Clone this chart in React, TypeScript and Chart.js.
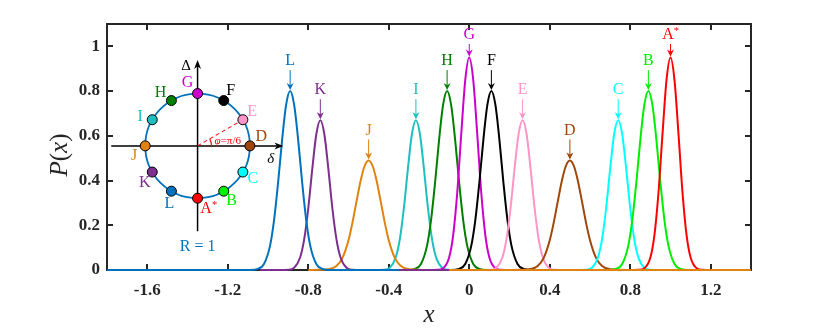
import React, { useEffect, useRef } from "react";
import { Chart, registerables } from "chart.js";

Chart.register(...registerables);

// ---------- data ----------
const peakNames = ["A*", "B", "C", "D", "E", "F", "G", "H", "I", "J", "K", "L"];
const peakCenters = [1.0, 0.89, 0.74, 0.5, 0.265, 0.11, 0.0, -0.11, -0.265, -0.5, -0.74, -0.89];
const peakShapeOf = ["tall", "high", "mid", "low", "mid", "high", "tall", "high", "mid", "low", "mid", "high"];
const peakColors = ["#FF0000", "#00EE00", "#00FFFF", "#A0460A", "#FF94C8", "#000000", "#CC00CC", "#008000", "#1DBFBF", "#E0820F", "#7E2F8E", "#0072BD"];
const drawOrder = [3, 4, 5, 6, 7, 8, 9, 10, 11, 2, 1, 0];
const baseFrom: (number | null)[] = [null, null, null, null, null, null, null, null, null, -0.8, null, -1.8];
const baseTo: (number | null)[] = [null, null, null, null, null, null, null, null, null, 1.4, -0.1, -0.35];

// offsets from the peak centre (x) and the read-off profile heights P(x)
const offsets = [-0.3, -0.2, -0.16, -0.13, -0.1, -0.08, -0.06, -0.04, -0.02, 0, 0.02, 0.04, 0.06, 0.08, 0.1, 0.13, 0.16, 0.2, 0.3];
const shapeTall = [0, 0, 0.001, 0.008, 0.056, 0.155, 0.342, 0.604, 0.848, 0.95, 0.848, 0.604, 0.342, 0.155, 0.056, 0.008, 0.001, 0, 0];
const shapeHigh = [0, 0, 0.005, 0.027, 0.108, 0.222, 0.389, 0.581, 0.738, 0.8, 0.738, 0.581, 0.389, 0.222, 0.108, 0.027, 0.005, 0, 0];
const shapeMid = [0, 0, 0.001, 0.01, 0.057, 0.138, 0.275, 0.451, 0.607, 0.67, 0.607, 0.451, 0.275, 0.138, 0.057, 0.01, 0.001, 0, 0];
const shapeLow = [0, 0.003, 0.018, 0.054, 0.133, 0.213, 0.307, 0.398, 0.465, 0.49, 0.465, 0.398, 0.307, 0.213, 0.133, 0.054, 0.018, 0.003, 0];
const shapes: Record<string, number[]> = { tall: shapeTall, high: shapeHigh, mid: shapeMid, low: shapeLow };

const xTicks = [-1.6, -1.2, -0.8, -0.4, 0, 0.4, 0.8, 1.2];
const yTicks = [0, 0.2, 0.4, 0.6, 0.8, 1];
const xMin = -1.8, xMax = 1.4, yMin = 0, yMax = 1.1;

// inset (circle) annotation
const insetCx = -1.35, insetCy = 0.555, insetR = 0.26; // centre in data units, radius in x units
const insetDotAngles = [-90, -60, -30, 0, 30, 60, 90, 120, 150, 180, 210, 240];
const insetLabelAngles = [-80, -58, -31, 8, 32, 59, 99, 125, 153, -171, -145, -116];

const SERIF = "'Liberation Serif', 'Times New Roman', serif";
const AXIS_COLOR = "#262626";

function drawLabel(ctx: CanvasRenderingContext2D, text: string, x: number, y: number, size: number, color: string) {
  ctx.fillStyle = color;
  ctx.textBaseline = "middle";
  if (text.endsWith("*")) {
    const main = text.slice(0, -1);
    ctx.font = `${size}px ${SERIF}`;
    const w1 = ctx.measureText(main).width;
    ctx.font = `${size * 0.65}px ${SERIF}`;
    const w2 = ctx.measureText("*").width;
    const left = x - (w1 + w2) / 2;
    ctx.textAlign = "left";
    ctx.font = `${size}px ${SERIF}`;
    ctx.fillText(main, left, y);
    ctx.font = `${size * 0.65}px ${SERIF}`;
    ctx.fillText("*", left + w1, y - size * 0.25);
  } else {
    ctx.font = `${size}px ${SERIF}`;
    ctx.textAlign = "center";
    ctx.fillText(text, x, y);
  }
}

function arrowHead(ctx: CanvasRenderingContext2D, tx: number, ty: number, ang: number, len: number, half: number, color: string) {
  const c = Math.cos(ang), s = Math.sin(ang);
  const pt = (a: number, b: number) => [tx + a * c - b * s, ty + a * s + b * c];
  const p1 = pt(-len, -half), p2 = pt(-len * 0.7, 0), p3 = pt(-len, half);
  ctx.fillStyle = color;
  ctx.beginPath();
  ctx.moveTo(tx, ty);
  ctx.lineTo(p1[0], p1[1]);
  ctx.lineTo(p2[0], p2[1]);
  ctx.lineTo(p3[0], p3[1]);
  ctx.closePath();
  ctx.fill();
}

const framePlugin = {
  id: "frame",
  beforeDatasetsDraw(chart: any) {
    const { ctx, chartArea: a, scales } = chart;
    ctx.save();
    ctx.strokeStyle = AXIS_COLOR;
    ctx.lineWidth = 2;
    ctx.strokeRect(a.left, a.top, a.right - a.left, a.bottom - a.top);
    const tl = 6;
    ctx.beginPath();
    for (const t of scales.x.ticks) {
      const px = Math.round(scales.x.getPixelForValue(t.value));
      ctx.moveTo(px, a.bottom); ctx.lineTo(px, a.bottom - tl);
      ctx.moveTo(px, a.top); ctx.lineTo(px, a.top + tl);
    }
    for (const t of scales.y.ticks) {
      const py = Math.round(scales.y.getPixelForValue(t.value));
      ctx.moveTo(a.left, py); ctx.lineTo(a.left + tl, py);
      ctx.moveTo(a.right, py); ctx.lineTo(a.right - tl, py);
    }
    ctx.stroke();
    // y-axis title  P(x)
    const parts: [string, boolean][] = [["P", true], ["(", false], ["x", true], [")", false]];
    const size = 25;
    let total = 0;
    const widths = parts.map(([t, it]) => {
      ctx.font = `${it ? "italic " : ""}${size}px ${SERIF}`;
      const w = ctx.measureText(t).width;
      total += w;
      return w;
    });
    ctx.translate(60, (a.top + a.bottom) / 2 + 8);
    ctx.rotate(-Math.PI / 2);
    ctx.fillStyle = AXIS_COLOR;
    ctx.textBaseline = "middle";
    ctx.textAlign = "left";
    let cx = -total / 2;
    parts.forEach(([t, it], i) => {
      ctx.font = `${it ? "italic " : ""}${size}px ${SERIF}`;
      ctx.fillText(t, cx, 0);
      cx += widths[i];
    });
    ctx.restore();
  },
};

const peakLabelPlugin = {
  id: "peakLabels",
  afterDatasetsDraw(chart: any) {
    const { ctx, scales, chartArea } = chart;
    ctx.save();
    peakNames.forEach((name, i) => {
      const shape = shapes[peakShapeOf[i]];
      const h = Math.max(...shape);
      const px = scales.x.getPixelForValue(peakCenters[i]);
      const py = scales.y.getPixelForValue(h);
      const col = peakColors[i];
      const ly = Math.max(py - 30, chartArea.top + 11);
      drawLabel(ctx, name, px, ly, 16, col);
      ctx.strokeStyle = col;
      ctx.lineWidth = 1;
      ctx.beginPath();
      ctx.moveTo(px, ly + 9);
      ctx.lineTo(px, py - 4);
      ctx.stroke();
      arrowHead(ctx, px, py - 1, Math.PI / 2, 7, 3.5, col);
    });
    ctx.restore();
  },
};

const insetPlugin = {
  id: "inset",
  afterDatasetsDraw(chart: any) {
    const { ctx, scales } = chart;
    const cx = scales.x.getPixelForValue(insetCx);
    const cy = scales.y.getPixelForValue(insetCy);
    const R = scales.x.getPixelForValue(insetCx + insetR) - cx;
    ctx.save();
    // axes
    ctx.strokeStyle = "#000";
    ctx.lineWidth = 1.5;
    ctx.beginPath();
    ctx.moveTo(cx - 1.65 * R, cy); ctx.lineTo(cx + 1.55 * R, cy);
    ctx.moveTo(cx, cy + 1.63 * R); ctx.lineTo(cx, cy - 1.55 * R);
    ctx.stroke();
    arrowHead(ctx, cx + 1.64 * R, cy, 0, 9, 3.5, "#000");
    arrowHead(ctx, cx, cy - 1.64 * R, -Math.PI / 2, 9, 3.5, "#000");
    // circle
    ctx.strokeStyle = "#0072BD";
    ctx.lineWidth = 1.8;
    ctx.beginPath();
    ctx.arc(cx, cy, R, 0, Math.PI * 2);
    ctx.stroke();
    // phi marker
    const eA = (30 * Math.PI) / 180;
    ctx.strokeStyle = "#FF0000";
    ctx.lineWidth = 1.1;
    ctx.setLineDash([4, 3]);
    ctx.beginPath();
    ctx.moveTo(cx, cy);
    ctx.lineTo(cx + R * Math.cos(eA), cy - R * Math.sin(eA));
    ctx.stroke();
    ctx.setLineDash([]);
    ctx.beginPath();
    ctx.arc(cx, cy, 14, -eA, 0);
    ctx.stroke();
    ctx.fillStyle = "#FF0000";
    ctx.font = `italic 11px ${SERIF}`;
    ctx.textAlign = "left";
    ctx.textBaseline = "alphabetic";
    const phi = "\u03C6";
    ctx.fillText(phi, cx + 17, cy - 2);
    const wphi = ctx.measureText(phi).width;
    ctx.font = `11px ${SERIF}`;
    ctx.fillText("=\u03C0/6", cx + 17 + wphi, cy - 2);
    // dots
    insetDotAngles.forEach((deg, i) => {
      const a = (deg * Math.PI) / 180;
      ctx.beginPath();
      ctx.arc(cx + R * Math.cos(a), cy - R * Math.sin(a), 5, 0, Math.PI * 2);
      ctx.fillStyle = peakColors[i];
      ctx.fill();
      ctx.strokeStyle = "#000";
      ctx.lineWidth = 1;
      ctx.stroke();
    });
    // labels
    insetLabelAngles.forEach((deg, i) => {
      const a = (deg * Math.PI) / 180;
      drawLabel(ctx, peakNames[i], cx + 1.23 * R * Math.cos(a), cy - 1.23 * R * Math.sin(a), 16, peakColors[i]);
    });
    drawLabel(ctx, "\u0394", cx - 0.22 * R, cy - 1.53 * R, 15, "#000");
    ctx.font = `italic 15px ${SERIF}`;
    ctx.fillStyle = "#000";
    ctx.textAlign = "center";
    ctx.textBaseline = "middle";
    ctx.fillText("\u03B4", cx + 1.4 * R, cy + 0.25 * R);
    drawLabel(ctx, "R = 1", cx, cy + 1.92 * R, 16, "#0072BD");
    ctx.restore();
  },
};

export default function App() {
  const ref = useRef<HTMLCanvasElement | null>(null);
  useEffect(() => {
    if (!ref.current) return;
    const datasets = peakNames.map((name, i) => {
      const shape = shapes[peakShapeOf[i]];
      const pts = offsets.map((d, j) => ({ x: peakCenters[i] + d, y: shape[j] }));
      const f = baseFrom[i];
      const t = baseTo[i];
      if (f !== null && f < pts[0].x) pts.unshift({ x: f, y: 0 });
      if (t !== null && t > pts[pts.length - 1].x) pts.push({ x: t, y: 0 });
      return {
        label: name,
        data: pts,
        borderColor: peakColors[i],
        backgroundColor: peakColors[i],
        borderWidth: 2,
        pointRadius: 0,
        fill: false,
        cubicInterpolationMode: "monotone" as const,
        order: drawOrder[i],
        clip: 3,
      };
    });
    const chart = new Chart(ref.current, {
      type: "line",
      data: { datasets },
      options: {
        animation: false,
        responsive: false,
        devicePixelRatio: 1,
        layout: { padding: { left: 0, right: 79, top: 24, bottom: 0 } },
        plugins: { legend: { display: false }, tooltip: { enabled: false } },
        scales: {
          x: {
            type: "linear",
            min: xMin,
            max: xMax,
            afterBuildTicks: (s: any) => { s.ticks = xTicks.map((v) => ({ value: v })); },
            afterFit: (s: any) => { s.height = 60; },
            grid: { display: false, drawTicks: false },
            border: { display: false },
            ticks: {
              autoSkip: false,
              maxRotation: 0,
              padding: 10,
              color: AXIS_COLOR,
              font: { family: SERIF, size: 17, weight: "bold" },
              callback: (v: any) => String(v),
            },
            title: {
              display: true,
              text: "x",
              color: AXIS_COLOR,
              padding: { top: 0, bottom: 0 },
              font: { family: SERIF, size: 25, style: "italic" },
            },
          },
          y: {
            type: "linear",
            min: yMin,
            max: yMax,
            afterBuildTicks: (s: any) => { s.ticks = yTicks.map((v) => ({ value: v })); },
            afterFit: (s: any) => { s.width = 107; },
            grid: { display: false, drawTicks: false },
            border: { display: false },
            ticks: {
              autoSkip: false,
              padding: 7,
              color: AXIS_COLOR,
              font: { family: SERIF, size: 17, weight: "bold" },
              callback: (v: any) => String(v),
            },
          },
        },
      },
      plugins: [framePlugin, peakLabelPlugin, insetPlugin],
    });
    return () => chart.destroy();
  }, []);
  return (
    <div style={{ position: "fixed", left: 0, top: 0, width: 830, height: 330, background: "#fff" }}>
      <canvas ref={ref} width={830} height={330} style={{ display: "block" }} />
    </div>
  );
}
